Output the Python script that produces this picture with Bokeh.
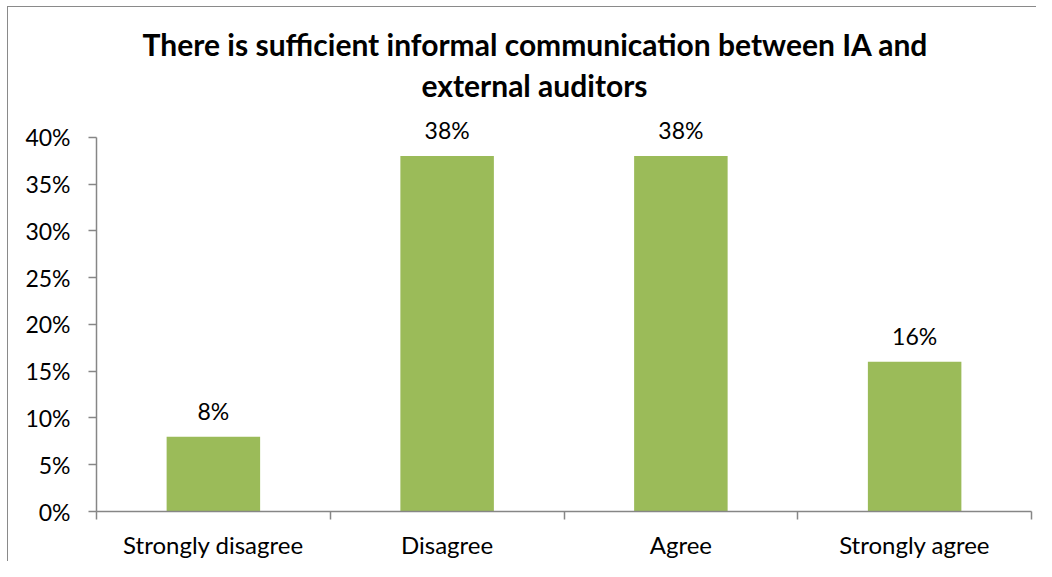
from bokeh.plotting import figure
from bokeh.models import (Range1d, FixedTicker, NumeralTickFormatter, ColumnDataSource,
                          LabelSet, Label)
from bokeh.core.properties import value
from bokeh.embed import file_html
from bokeh.resources import INLINE

categories = ["Strongly disagree", "Disagree", "Agree", "Strongly agree"]
values = [0.08, 0.38, 0.38, 0.16]
value_labels = ["8%", "38%", "38%", "16%"]
y_ticks = [0.0, 0.05, 0.10, 0.15, 0.20, 0.25, 0.30, 0.35, 0.40]
title_lines = ["There is sufficient informal communication between IA and", "external auditors"]

FONT = "Lato"
GRAY = "#868686"
GREEN = "#9BBB59"

W, H = 1036, 561
BOTTOM = 46
Y_TOP = 0.5464  # frame extends to the top of the figure; axis drawn only up to 40%
p = figure(width=W, height=H, output_backend="svg", toolbar_location=None,
           x_range=Range1d(0, len(categories)), y_range=Range1d(0, Y_TOP),
           min_border_left=96, min_border_right=5, min_border_top=0, min_border_bottom=BOTTOM)
p.title.visible = False
p.outline_line_color = None
p.xgrid.visible = False
p.ygrid.visible = False
p.background_fill_color = None
p.border_fill_color = None
p.styles = {"background-color": "white",
            "box-shadow": "inset 7px 6px 0 0 white, inset 8px 7px 0 0 #8a8a8a"}

centers = [i + 0.5 for i in range(len(categories))]
src = ColumnDataSource(dict(x=centers, top=values, lab=value_labels, cat=categories))
p.vbar(x="x", top="top", width=0.4, source=src, fill_color=GREEN, line_color=None)

labels = LabelSet(x="x", y="top", text="lab", source=src, text_align="center",
                  text_baseline="bottom", y_offset=12, text_font=value(FONT),
                  text_font_size="23px", text_color="black")
p.add_layout(labels)

# x axis: labels at centers, tick marks at category boundaries
xa = p.xaxis[0]
xa.ticker = FixedTicker(ticks=centers, minor_ticks=list(range(len(categories) + 1)))
xa.major_label_overrides = {c: cat for c, cat in zip(centers, categories)}
xa.major_tick_line_color = None
xa.major_tick_out = 0
xa.major_tick_in = 0
xa.minor_tick_line_color = GRAY
xa.minor_tick_out = 8
xa.minor_tick_in = 0
xa.minor_tick_line_width = 1.5
xa.axis_line_color = GRAY
xa.axis_line_width = 1.5
xa.major_label_standoff = 10
xa.major_label_text_font = FONT
xa.major_label_text_font_size = "24px"
xa.major_label_text_color = "black"

ya = p.yaxis[0]
ya.ticker = FixedTicker(ticks=y_ticks, minor_ticks=[])
ya.bounds = (y_ticks[0], y_ticks[-1])
ya.formatter = NumeralTickFormatter(format="0%")
ya.major_tick_out = 8
ya.major_tick_in = 0
ya.major_tick_line_color = GRAY
ya.major_tick_line_width = 1.5
ya.axis_line_color = GRAY
ya.axis_line_width = 1.5
ya.major_label_standoff = 18
ya.major_label_text_font = FONT
ya.major_label_text_font_size = "23px"
ya.major_label_text_color = "black"

# title as two centered lines (screen units relative to the frame)
t1 = Label(x=439, y=468, x_units="screen", y_units="screen", text=title_lines[0],
           text_align="center", text_baseline="middle", text_font=FONT,
           text_font_style="bold", text_font_size="30px", text_color="black")
t2 = Label(x=438, y=427, x_units="screen", y_units="screen", text=title_lines[1],
           text_align="center", text_baseline="middle", text_font=FONT,
           text_font_style="bold", text_font_size="30px", text_color="black")
p.add_layout(t1)
p.add_layout(t2)

open("out.html", "w").write(file_html(p, INLINE))
